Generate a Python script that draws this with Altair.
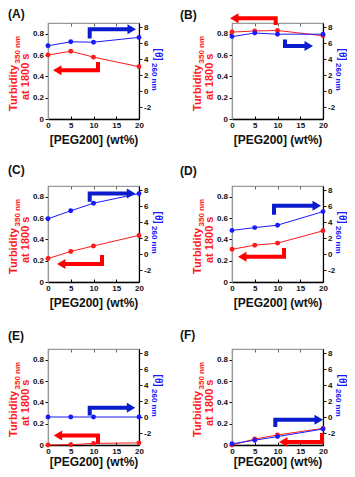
import altair as alt
import pandas as pd

# ---------------- data ----------------
PEG = [0, 5, 10, 20]
PANELS = ["A", "B", "C", "D", "E", "F"]

TURB_A = [0.60, 0.635, 0.58, 0.49]
TURB_B = [0.815, 0.825, 0.83, 0.78]
TURB_C = [0.22, 0.286, 0.338, 0.437]
TURB_D = [0.307, 0.345, 0.364, 0.48]
TURB_E = [0.0, 0.003, 0.015, 0.02]
TURB_F = [0.0, 0.056, 0.094, 0.156]

THETA_A = [5.65, 6.15, 6.1, 6.7]
THETA_B = [6.8, 7.25, 7.1, 7.1]
THETA_C = [4.4, 5.4, 6.35, 7.55]
THETA_D = [2.95, 3.3, 3.6, 5.3]
THETA_E = [0.0, 0.0, 0.0, 0.0]
THETA_F = [-3.35, -2.9, -2.45, -1.5]

X_TICKS = [0, 5, 10, 15, 20]
TURB_TICKS = [0, 0.2, 0.4, 0.6, 0.8]
THETA_TICKS = [-2, 0, 2, 4, 6, 8]

X_TITLE = "[PEG200] (wt%)"
LEFT_T1, LEFT_SUB, LEFT_T2 = "Turbidity", "350 nm", "at 1800 s"
RIGHT_T, RIGHT_SUB = "[\u03b8]", "260 nm"

TURB = dict(zip(PANELS, [TURB_A, TURB_B, TURB_C, TURB_D, TURB_E, TURB_F]))
THETA = dict(zip(PANELS, [THETA_A, THETA_B, THETA_C, THETA_D, THETA_E, THETA_F]))

# ---------------- layout / style ----------------
FONT = "Liberation Sans"
RED = "#ff1a1a"
RED_ARROW = "#ff0000"
BLUE = "#1a1aff"
BLUE_ARROW = "#0a1ccc"
W, H = 91, 96
ROW_GAP, COL_GAP = 67, 93
HEAD_R = 5.0
HEAD_HALF = 0.85 * HEAD_R

# annotation arrows, plot-relative pixel geometry (start, corner, tip)
RED_ARROWS = {
    "A": [(50, 39), (50, 47.3), (5, 47.3)],
    "B": [(43.7, 2), (43.7, -4.7), (-2, -4.7)],
    "C": [(54, 69), (54, 78), (9, 78)],
    "D": [(52, 62), (52, 70.7), (6, 70.7)],
    "E": [(50, 94.8), (50, 86.5), (5.7, 86.5)],
    "F": [(90, 84), (90, 93), (47, 93)],
}
BLUE_ARROWS = {
    "A": [(41.7, 15.6), (41.7, 6.3), (88, 6.3)],
    "B": [(53, 16.5), (53, 23), (81, 23)],
    "C": [(41.7, 15.8), (41.7, 7.5), (87.3, 7.5)],
    "D": [(42, 28.7), (42, 19.7), (89, 19.7)],
    "E": [(41.7, 66.5), (41.7, 58.8), (87.3, 58.8)],
    "F": [(43.3, 78), (43.3, 70.7), (91, 70.7)],
}
LETTER_POS = {
    "A": (-40, -14), "B": (-52, -13.5), "C": (-40, -21),
    "D": (-52, -20), "E": (-40, -18), "F": (-52, -19.5),
}
TITLE_PAD = {"A": 5, "B": 5, "C": 5, "D": 5, "E": 1, "F": 1}
SHAPE_RIGHT = "M-0.85,-1L0.85,0L-0.85,1Z"
SHAPE_LEFT = "M0.85,-1L-0.85,0L0.85,1Z"

PXS = alt.Scale(domain=[0, W], range=[0, W], nice=False, zero=False)
PYS = alt.Scale(domain=[0, H], range=[0, H], nice=False, zero=False)


def arrow_parts(name, pts, color):
    (x0, y0), (x1, y1), (x2, y2) = pts
    d = 1 if x2 > x1 else -1
    cx = x2 - d * HEAD_HALF
    rows = [
        {"name": name, "k": 0, "px": x0, "py": y0, "col": color},
        {"name": name, "k": 1, "px": x1, "py": y1, "col": color},
        {"name": name, "k": 2, "px": cx, "py": y2, "col": color},
    ]
    head = {"px": cx, "py": y2, "col": color,
            "shp": SHAPE_RIGHT if d > 0 else SHAPE_LEFT}
    return rows, head


def panel(pid):
    df = pd.DataFrame({"peg": PEG, "turb": TURB[pid], "theta": THETA[pid]})
    xs = alt.Scale(domain=[0, 20], nice=False, zero=False)

    red = alt.Chart(df).mark_line(
        color=RED, strokeWidth=1,
        point=alt.OverlayMarkDef(filled=True, size=24, color=RED),
    ).encode(
        x=alt.X("peg:Q", scale=xs, axis=alt.Axis(
            values=X_TICKS, title=X_TITLE, tickSize=0, labelPadding=2,
            titlePadding=TITLE_PAD[pid], domainColor="#000", domainWidth=1.5,
            labelFlush=False)),
        y=alt.Y("turb:Q", scale=alt.Scale(domain=[0, 0.9], nice=False, zero=False),
                axis=alt.Axis(orient="left", values=TURB_TICKS,
                              labelExpr="toString(datum.value)", title=None,
                              tickSize=3, labelPadding=1.5,
                              domainColor="#9a9a9a", domainWidth=1.2,
                              labelFlush=False)),
    )
    blue = alt.Chart(df).mark_line(
        color=BLUE, strokeWidth=1,
        point=alt.OverlayMarkDef(filled=True, size=24, color=BLUE),
    ).encode(
        x=alt.X("peg:Q", scale=xs, axis=None),
        y=alt.Y("theta:Q", scale=alt.Scale(domain=[-3.5, 8.5], nice=False, zero=False),
                axis=alt.Axis(orient="right", values=THETA_TICKS,
                              labelExpr="toString(datum.value)", title=None,
                              tickSize=3, labelPadding=1.5,
                              domainColor="#000", domainWidth=1.2,
                              labelFlush=False)),
    )
    tdf = pd.DataFrame({"t": X_TICKS, "z": [0] * len(X_TICKS)})
    inner_bottom = alt.Chart(tdf).mark_point(opacity=0, size=1).encode(
        x=alt.X("t:Q", scale=xs, axis=alt.Axis(
            orient="top", offset=-H, labels=False, domain=False, tickSize=3,
            title=None, values=X_TICKS, grid=False, tickColor="#000")),
        y=alt.Y("z:Q", scale=PYS, axis=None),
    )
    inner_top = alt.Chart(tdf).mark_point(opacity=0, size=1).encode(
        x=alt.X("t:Q", scale=xs, axis=alt.Axis(
            orient="bottom", offset=-H, labels=False, domain=False, tickSize=3,
            title=None, values=X_TICKS, grid=False, tickColor="#666")),
        y=alt.Y("z:Q", scale=PYS, axis=None),
    )

    r_rows, r_head = arrow_parts("r", RED_ARROWS[pid], RED_ARROW)
    b_rows, b_head = arrow_parts("b", BLUE_ARROWS[pid], BLUE_ARROW)
    adf = pd.DataFrame(r_rows + b_rows)
    hdf = pd.DataFrame([r_head, b_head])
    arrows = alt.Chart(adf).mark_line(strokeWidth=4, strokeJoin="miter", strokeCap="butt").encode(
        x=alt.X("px:Q", scale=PXS, axis=None),
        y=alt.Y("py:Q", scale=PYS, axis=None),
        color=alt.Color("col:N", scale=None),
        detail="name:N",
        order="k:Q",
    )
    heads = alt.Chart(hdf).mark_point(filled=True, opacity=1, strokeWidth=0, size=HEAD_R * HEAD_R * 4).encode(
        x=alt.X("px:Q", scale=PXS, axis=None),
        y=alt.Y("py:Q", scale=PYS, axis=None),
        color=alt.Color("col:N", scale=None),
        shape=alt.Shape("shp:N", scale=None),
    )

    texts = pd.DataFrame([
        {"text": LEFT_T1, "px": -31.5, "py": 88, "ang": 270, "fs": 11, "col": RED},
        {"text": LEFT_SUB, "px": -28, "py": 40.5, "ang": 270, "fs": 8, "col": RED},
        {"text": LEFT_T2, "px": -19.5, "py": 77, "ang": 270, "fs": 11, "col": RED},
        {"text": RIGHT_T, "px": W + 15.5, "py": 25.6, "ang": 90, "fs": 10, "col": BLUE},
        {"text": RIGHT_SUB, "px": W + 13, "py": 40, "ang": 90, "fs": 8, "col": BLUE},
    ])
    titles = alt.Chart(texts).mark_text(
        align="left", baseline="alphabetic", font=FONT, fontWeight="bold"
    ).encode(
        x=alt.X("px:Q", scale=PXS, axis=None),
        y=alt.Y("py:Q", scale=PYS, axis=None),
        text="text:N",
        angle=alt.Angle("ang:Q", scale=None),
        size=alt.Size("fs:Q", scale=None),
        color=alt.Color("col:N", scale=None),
    )
    lx, ly = LETTER_POS[pid]
    letter = alt.Chart(pd.DataFrame({"t": [f"({pid})"], "lx": [lx], "ly": [ly]})).mark_text(
        align="left", baseline="top", font=FONT, fontWeight="bold",
        fontSize=12, color="#111"
    ).encode(
        x=alt.X("lx:Q", scale=PXS, axis=None),
        y=alt.Y("ly:Q", scale=PYS, axis=None),
        text="t:N",
    )

    return alt.layer(
        red, blue, inner_bottom, inner_top, arrows, heads, titles, letter,
        width=W, height=H,
    ).resolve_scale(x="independent", y="independent").resolve_axis(
        x="independent", y="independent"
    )


chart = alt.concat(
    *[panel(p) for p in PANELS], columns=2,
    spacing={"row": ROW_GAP, "column": COL_GAP}, bounds="flush",
).properties(
    padding={"left": 40, "top": 15, "right": 299, "bottom": 446},
    autosize=alt.AutoSizeParams(type="none"),
).configure_view(
    stroke="#9a9a9a", strokeWidth=1.2
).configure_axis(
    labelFont=FONT, labelFontSize=8, labelFontWeight="bold", labelColor="#111",
    titleFont=FONT, titleFontSize=12, titleFontWeight="bold", titleColor="#111",
    grid=False, tickColor="#111", tickWidth=1,
)

chart.save("out.html", embed_options={"renderer": "svg", "actions": False})
